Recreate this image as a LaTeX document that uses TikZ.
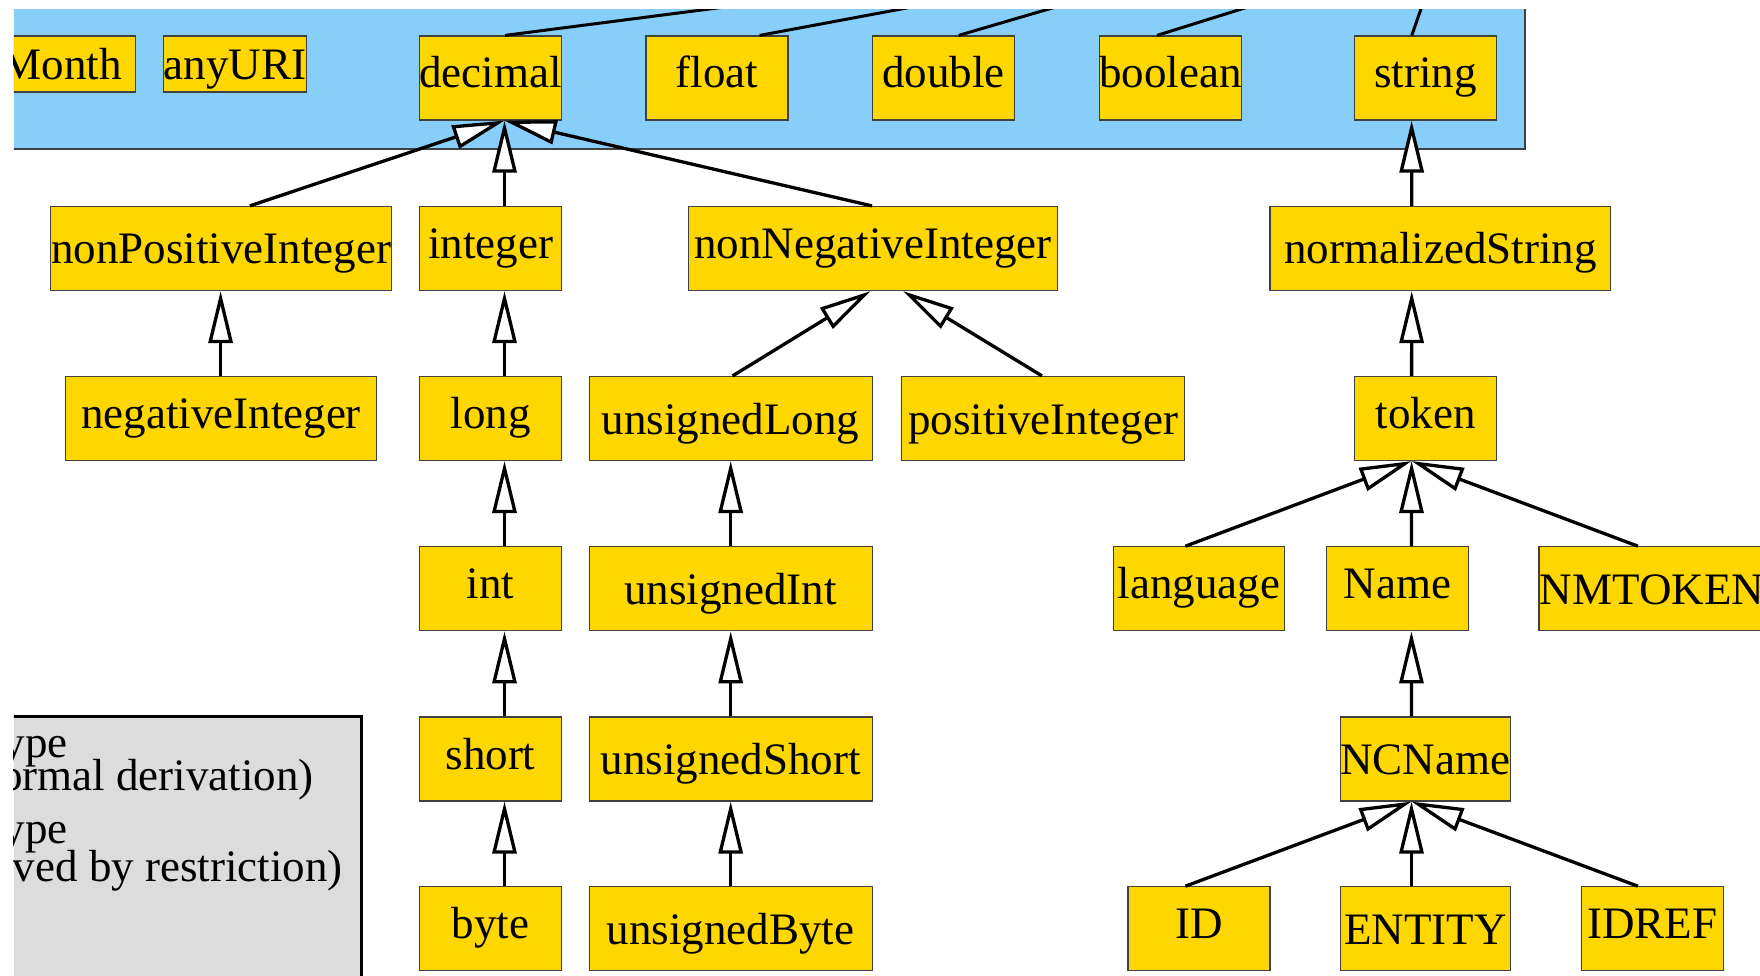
\documentclass[tikz,border=0pt]{standalone}
\usepackage{fontspec}
\setmainfont{Liberation Serif}
\usetikzlibrary{arrows.meta}
\definecolor{typegold}{HTML}{FFD700}
\definecolor{primband}{HTML}{87CEFA}
\definecolor{legendgray}{HTML}{DCDCDC}

\begin{document}
\begin{tikzpicture}[x=1pt,y=-1pt,
  every node/.style={font=\fontsize{45}{54}\selectfont},
  tbox/.style={draw=black!75, line width=1.2pt, fill=typegold, minimum height=84pt,
    minimum width=142pt, inner sep=0pt, text height=25pt, text depth=5pt},
  lowtext/.style={text height=31pt, text depth=0pt},
  smallbox/.style={tbox, minimum height=56pt, text height=32pt, text depth=0pt},
  isa/.style={line width=3.3pt, -{Triangle[length=52pt,width=24pt,fill=white]}},
  toparent/.style={line width=3pt},
  legendtext/.style={inner sep=0pt, anchor=base east}
]
\useasboundingbox (0,0) rectangle (1760,976);
\begin{scope}
\clip (13.8,10) rectangle (1760,976);

% band of primitive types and the legend panel
\draw[fill=primband, draw=black!75, line width=1.5pt] (-20,-20) rectangle (1525,149);
\draw[fill=legendgray, draw=black, line width=3pt] (-20,716) rectangle (361.7,1010);
\node[legendtext] (leg1) at (68,757) {ype};
\node[legendtext] (leg2) at (314,790) {ormal derivation)};
\node[legendtext] (leg3) at (68,843) {ype};
\node[legendtext] (leg4) at (343,881) {ved by restriction)};

% primitive types
\node[smallbox, minimum width=0pt, inner xsep=13.4pt, anchor=east] (gmonth) at (136,64) {Month};
\node[smallbox] (anyuri) at (235,64) {anyURI};
\node[tbox] (decimal) at (490.5,78) {decimal};
\node[tbox] (float) at (716.9,78) {float};
\node[tbox] (double) at (943.7,78) {double};
\node[tbox] (boolean) at (1170.5,78) {boolean};
\node[tbox] (string) at (1425.7,78) {string};

% derived types
\node[tbox, lowtext, minimum width=341pt] (nonpos) at (221,248.5) {nonPositiveInteger};
\node[tbox] (integer) at (490.5,248.5) {integer};
\node[tbox, minimum width=369pt] (nonneg) at (873,248.5) {nonNegativeInteger};
\node[tbox, lowtext, minimum width=340.7pt] (normstr) at (1440.3,248.5) {normalizedString};

\node[tbox, minimum width=311.6pt] (neg) at (221,418.5) {negativeInteger};
\node[tbox] (long) at (490.5,418.5) {long};
\node[tbox, lowtext, minimum width=283pt] (ulong) at (730.7,418.5) {unsignedLong};
\node[tbox, lowtext, minimum width=283pt] (pos) at (1043.3,418.5) {positiveInteger};
\node[tbox] (token) at (1425.7,418.5) {token};

\node[tbox] (int) at (490.5,588.8) {int};
\node[tbox, lowtext, minimum width=283pt] (uint) at (730.7,588.8) {unsignedInt};
\node[tbox, minimum width=170.4pt] (language) at (1199,588.8) {language};
\node[tbox] (name) at (1397.5,588.8) {Name};
\node[tbox, lowtext, minimum width=226pt] (nmtoken) at (1652,588.8) {NMTOKEN};

\node[tbox] (short) at (490.5,759) {short};
\node[tbox, lowtext, minimum width=283pt] (ushort) at (730.7,759) {unsignedShort};
\node[tbox, lowtext, minimum width=170pt] (ncname) at (1425.4,759) {NCName};

\node[tbox] (byte) at (490.5,928.8) {byte};
\node[tbox, lowtext, minimum width=283pt] (ubyte) at (730.7,928.8) {unsignedByte};
\node[tbox] (id) at (1199,928.8) {ID};
\node[tbox, lowtext, minimum width=170pt] (entity) at (1425.4,928.8) {ENTITY};
\node[tbox] (idref) at (1652.4,928.8) {IDREF};

% links of the primitives up to their common base type
\coordinate (updecimal) at (903,-16);
\coordinate (upfloat) at (1035.3,-16);
\coordinate (updouble) at (1134.1,-16);
\coordinate (upboolean) at (1321.6,-16);
\coordinate (upstring) at (1429.6,-16);
\draw[toparent] ([xshift=14.5pt]decimal.north) -- (updecimal);
\draw[toparent] ([xshift=42.8pt]float.north) -- (upfloat);
\draw[toparent] ([xshift=15pt]double.north) -- (updouble);
\draw[toparent] ([xshift=-13.5pt]boolean.north) -- (upboolean);
\draw[toparent] ([xshift=-13.9pt]string.north) -- (upstring);

% derivation by restriction
\draw[isa] ([xshift=28.8pt]nonpos.north) -- ([xshift=14pt]decimal.south);
\draw[isa] ([xshift=14pt]integer.north) -- ([xshift=14pt]decimal.south);
\draw[isa] ([xshift=-1pt]nonneg.north) -- ([xshift=14pt]decimal.south);
\draw[isa] ([xshift=-0.4pt]neg.north) -- ([xshift=-0.4pt]nonpos.south);
\draw[isa] ([xshift=14pt]long.north) -- ([xshift=14pt]integer.south);
\draw[isa] ([xshift=14pt]int.north) -- ([xshift=14pt]long.south);
\draw[isa] ([xshift=14pt]short.north) -- ([xshift=14pt]int.south);
\draw[isa] ([xshift=14pt]byte.north) -- ([xshift=14pt]short.south);
\draw[isa] ([xshift=1.9pt]ulong.north) -- ([xshift=-2.4pt]nonneg.south);
\draw[isa] ([xshift=-1.3pt]pos.north) -- ([xshift=30pt]nonneg.south);
\draw[isa] (uint.north) -- (ulong.south);
\draw[isa] (ushort.north) -- (uint.south);
\draw[isa] (ubyte.north) -- (ushort.south);
\draw[isa] ([xshift=-28.6pt]normstr.north) -- ([xshift=-14.1pt]string.south);
\draw[isa] ([xshift=-14.1pt]token.north) -- ([xshift=-28.6pt]normstr.south);
\draw[isa] ([xshift=-13.6pt]language.north) -- ([xshift=-14.1pt]token.south);
\draw[isa] ([xshift=13.9pt]name.north) -- ([xshift=-14.1pt]token.south);
\draw[isa] ([xshift=-14.1pt]nmtoken.north) -- ([xshift=-14.1pt]token.south);
\draw[isa] ([xshift=-13.9pt]ncname.north) -- ([xshift=13.9pt]name.south);
\draw[isa] ([xshift=-13.6pt]id.north) -- ([xshift=-13.9pt]ncname.south);
\draw[isa] ([xshift=-13.9pt]entity.north) -- ([xshift=-13.9pt]ncname.south);
\draw[isa] ([xshift=-14.5pt]idref.north) -- ([xshift=-13.9pt]ncname.south);
\end{scope}
\end{tikzpicture}
\end{document}
